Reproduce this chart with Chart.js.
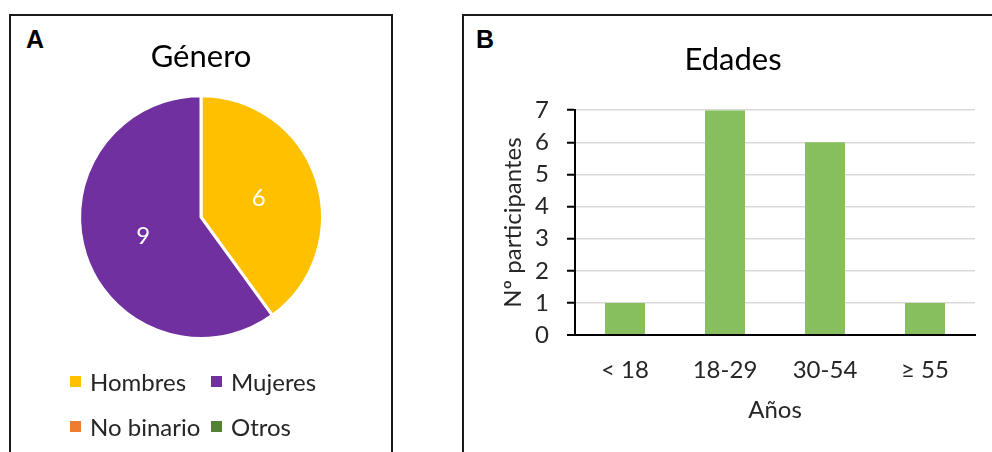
<!DOCTYPE html>
<html>
<head>
<meta charset="utf-8">
<script src="https://cdn.jsdelivr.net/npm/chart.js@4.4.1/dist/chart.umd.min.js"></script>
<style>
    html, body { margin: 0; padding: 0; background: #fff; overflow: hidden; }
    body { width: 992px; height: 452px; position: relative; font-family: Lato, sans-serif; }
    .panel { position: absolute; border: 2px solid #1a1a1a; box-sizing: border-box; }
    .tag { position: absolute; font: bold 25px "Liberation Sans", Arial, sans-serif; color: #000; }
    canvas { position: absolute; }
    #gender-legend { position: absolute; left: 70px; top: 365px; display: grid;
        grid-template-columns: 141px auto; row-gap: 13px; font: 24px Lato, sans-serif; color: #262626; }
    #gender-legend .item { display: flex; align-items: center; height: 32px; }
    #gender-legend .box { width: 11px; height: 11px; margin-right: 9px; }
</style>
</head>
<body>
<div class="panel" style="left:9px; top:14px; width:384px; height:460px;"></div>
<div class="panel" style="left:462px; top:14px; width:560px; height:460px;"></div>
<div class="tag" style="left:26px; top:25px;">A</div>
<div class="tag" style="left:476px; top:25px;">B</div>

<canvas id="gender-chart" width="382" height="438" style="left:10px; top:14px;"></canvas>
<div id="gender-legend"></div>
<canvas id="age-chart" width="529" height="438" style="left:463px; top:14px;"></canvas>

<script>
// Panel A - gender
var genderLabels = ['Hombres', 'Mujeres', 'No binario', 'Otros'];
var genderCounts = [6, 9, 0, 0];
var genderColors = ['#FFC000', '#7030A0', '#ED7D31', '#548235'];

// Panel B - age groups
var ageLabels = ['< 18', '18-29', '30-54', '\u2265 55'];
var ageCounts = [1, 7, 6, 1];
var ageTicks = [0, 1, 2, 3, 4, 5, 6, 7];

var textColor = '#262626';

// Draw slice values in white at the middle of each slice
var sliceValues = {
    id: 'sliceValues',
    afterDatasetsDraw: function(chart) {
        var ctx = chart.ctx;
        var meta = chart.getDatasetMeta(0);
        ctx.save();
        ctx.fillStyle = '#ffffff';
        ctx.font = '24px Lato';
        ctx.textAlign = 'center';
        ctx.textBaseline = 'middle';
        meta.data.forEach(function(arc, i) {
            var value = chart.data.datasets[0].data[i];
            if (!value) {
                return;
            }
            var p = arc.getCenterPoint();
            ctx.fillText(String(value), p.x, p.y);
        });
        ctx.restore();
    }
};

function initGenderChart() {
    var ctx = document.getElementById('gender-chart').getContext('2d');
    new Chart(ctx, {
        type: 'pie',
        data: {
            labels: genderLabels,
            datasets: [{
                data: genderCounts,
                backgroundColor: genderColors,
                borderColor: '#ffffff',
                borderWidth: 3,
                hoverOffset: 0
            }]
        },
        options: {
            responsive: false,
            animation: false,
            layout: { padding: { top: 0, bottom: 112, left: 0, right: 0 } },
            plugins: {
                legend: { display: false },
                tooltip: { enabled: false },
                title: {
                    display: true,
                    text: 'Género',
                    color: '#000',
                    font: { family: 'Lato', size: 31, weight: 'normal' },
                    padding: { top: 24, bottom: 19 }
                }
            }
        },
        plugins: [sliceValues]
    });

    // Legend laid out in two columns like the original
    var legend = document.getElementById('gender-legend');
    genderLabels.forEach(function(label, i) {
        var item = document.createElement('div');
        item.className = 'item';
        var box = document.createElement('span');
        box.className = 'box';
        box.style.background = genderColors[i];
        item.appendChild(box);
        item.appendChild(document.createTextNode(label));
        legend.appendChild(item);
    });
}

function initAgeChart() {
    var ctx = document.getElementById('age-chart').getContext('2d');
    new Chart(ctx, {
        type: 'bar',
        data: {
            labels: ageLabels,
            datasets: [{
                data: ageCounts,
                backgroundColor: '#87BF5F',
                categoryPercentage: 1,
                barPercentage: 0.4
            }]
        },
        options: {
            responsive: false,
            animation: false,
            layout: { padding: { top: 0, bottom: 0, left: 28, right: 17 } },
            plugins: {
                legend: { display: false },
                tooltip: { enabled: false },
                title: {
                    display: true,
                    text: 'Edades',
                    color: '#000',
                    font: { family: 'Lato', size: 31, weight: 'normal' },
                    padding: { top: 27, bottom: 32 }
                }
            },
            scales: {
                x: {
                    grid: { display: false },
                    border: { display: true, color: '#000', width: 2 },
                    ticks: {
                        color: textColor,
                        font: { family: 'Lato', size: 24 },
                        padding: 13
                    },
                    title: {
                        display: true,
                        text: 'Años',
                        color: textColor,
                        font: { family: 'Lato', size: 24 },
                        padding: { top: 8, bottom: 27 }
                    },
                    afterFit: function(scale) {
                        scale.height = 117;
                    }
                },
                y: {
                    min: 0,
                    max: 7,
                    afterBuildTicks: function(scale) {
                        scale.ticks = ageTicks.map(function(v) { return { value: v }; });
                    },
                    grid: {
                        color: function(c) { return c.tick && c.tick.value === 0 ? '#000' : '#D9D9D9'; },
                        lineWidth: function(c) { return c.tick && c.tick.value === 0 ? 2 : 1.5; },
                        tickColor: '#000',
                        tickWidth: 2,
                        tickLength: 8
                    },
                    border: { display: true, color: '#000', width: 2 },
                    ticks: {
                        color: textColor,
                        font: { family: 'Lato', size: 24 },
                        padding: 18
                    },
                    title: {
                        display: true,
                        text: 'Nº participantes',
                        color: textColor,
                        font: { family: 'Lato', size: 24 },
                        padding: { top: 8, bottom: 0 }
                    },
                    afterFit: function(scale) {
                        scale.width = 84;
                    }
                }
            }
        }
    });
}

initGenderChart();
initAgeChart();
</script>
</body>
</html>
